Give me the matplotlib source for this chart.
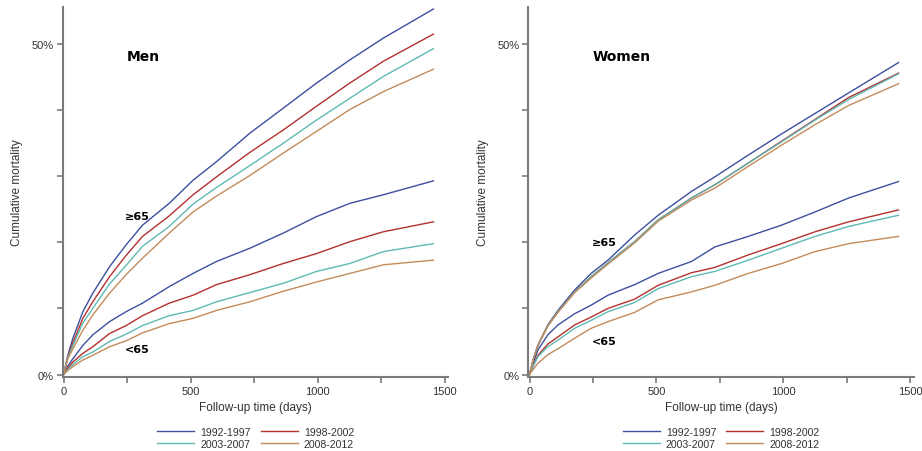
import matplotlib
matplotlib.use("Agg")
import matplotlib.pyplot as plt

periods = ["1992-1997", "1998-2002", "2003-2007", "2008-2012"]
colors = ["#3d4f9e", "#b3302e", "#5fb9b3", "#c28b5c"]

# Men (days, cumulative mortality %)
men_days = [0, 17, 37, 76, 115, 181, 246, 311, 416, 510, 602, 733, 865, 996, 1127, 1259, 1456]
men_old = {
    "1992-1997": [0, 2.9, 5.5, 9.5, 12.3, 16.3, 19.6, 22.6, 25.9, 29.4, 32.2, 36.5, 40.3, 44.1, 47.6, 50.9, 55.3],
    "1998-2002": [0, 2.7, 4.8, 8.5, 11.0, 14.8, 18.0, 20.9, 24.0, 27.2, 29.9, 33.6, 37.0, 40.6, 44.1, 47.4, 51.5],
    "2003-2007": [0, 2.6, 4.4, 7.8, 10.0, 13.7, 16.5, 19.4, 22.4, 25.8, 28.3, 31.6, 35.0, 38.5, 41.8, 45.1, 49.3],
    "2008-2012": [0, 2.4, 3.9, 6.7, 9.0, 12.3, 15.1, 17.6, 21.4, 24.6, 27.0, 30.1, 33.5, 36.8, 40.1, 42.8, 46.2],
}
men_young = {
    "1992-1997": [0, 1.3, 2.4, 4.4, 6.0, 8.0, 9.5, 10.8, 13.3, 15.3, 17.1, 19.1, 21.4, 23.9, 25.9, 27.2, 29.3],
    "1998-2002": [0, 1.0, 1.9, 3.2, 4.2, 6.2, 7.4, 8.9, 10.8, 12.0, 13.6, 15.1, 16.8, 18.3, 20.1, 21.6, 23.1],
    "2003-2007": [0, 0.8, 1.5, 2.7, 3.4, 5.0, 6.1, 7.4, 8.9, 9.7, 11.0, 12.4, 13.8, 15.6, 16.8, 18.6, 19.8],
    "2008-2012": [0, 0.6, 1.2, 2.2, 2.9, 4.2, 5.1, 6.3, 7.7, 8.5, 9.7, 11.0, 12.6, 14.0, 15.3, 16.6, 17.3],
}
# Women
women_days = [0, 15, 33, 72, 112, 178, 243, 309, 414, 507, 638, 730, 862, 993, 1125, 1257, 1454]
women_old = {
    "1992-1997": [0, 2.3, 4.4, 7.5, 9.7, 12.8, 15.3, 17.3, 21.1, 24.1, 27.7, 29.9, 33.2, 36.4, 39.5, 42.6, 47.2],
    "1998-2002": [0, 2.3, 4.4, 7.4, 9.5, 12.5, 14.8, 16.9, 20.1, 23.4, 26.7, 28.7, 32.0, 35.3, 38.6, 41.9, 45.6],
    "2003-2007": [0, 2.3, 4.4, 7.4, 9.5, 12.5, 14.8, 16.9, 20.1, 23.4, 26.7, 28.7, 32.0, 35.2, 38.5, 41.6, 45.5],
    "2008-2012": [0, 2.3, 4.4, 7.3, 9.4, 12.4, 14.6, 16.7, 19.9, 23.2, 26.4, 28.2, 31.5, 34.7, 37.8, 40.7, 44.0],
}
women_young = {
    "1992-1997": [0, 1.8, 3.7, 6.0, 7.5, 9.2, 10.5, 12.0, 13.6, 15.3, 17.1, 19.3, 20.9, 22.6, 24.6, 26.7, 29.2],
    "1998-2002": [0, 1.4, 2.9, 4.6, 5.7, 7.5, 8.7, 10.0, 11.4, 13.5, 15.4, 16.2, 18.1, 19.8, 21.6, 23.1, 24.9],
    "2003-2007": [0, 1.3, 2.7, 4.2, 5.2, 7.0, 8.2, 9.5, 10.9, 13.0, 14.8, 15.6, 17.3, 19.1, 20.9, 22.4, 24.1],
    "2008-2012": [0, 0.8, 1.7, 3.0, 3.9, 5.5, 7.0, 8.0, 9.4, 11.3, 12.5, 13.5, 15.3, 16.8, 18.6, 19.8, 20.9],
}

x_major = [0, 500, 1000, 1500]
x_minor = [250, 750, 1250]
y_ticks = [0, 10, 20, 30, 40, 50]
y_labels = ["0%", "", "", "", "", "50%"]

plt.rcParams['font.family'] = ['Liberation Sans', 'DejaVu Sans']

fig = plt.figure(figsize=(9.22, 4.52), dpi=100)
ax1 = fig.add_axes([0.0678, 0.1648, 0.4186, 0.8175])
ax2 = fig.add_axes([0.5732, 0.1648, 0.4182, 0.8175])

spine_c = "#7a7a7a"
txt_c = "#333333"

def draw(ax, days, old, young, title, old_pos, young_pos):
    handles = []
    for p, c in zip(periods, colors):
        h, = ax.plot(days, old[p], color=c, lw=1.0, label=p)
        ax.plot(days, young[p], color=c, lw=1.0)
        handles.append(h)
    ax.set_xlim(-4, 1515)
    ax.set_ylim(-0.3, 55.6)
    for s in ["top", "right"]:
        ax.spines[s].set_visible(False)
    for s in ["left", "bottom"]:
        ax.spines[s].set_color(spine_c)
        ax.spines[s].set_linewidth(1.5)
    ax.set_xticks(x_major)
    ax.set_xticks(x_minor, minor=True)
    ax.set_yticks(y_ticks)
    ax.set_yticklabels(y_labels)
    ax.tick_params(axis="both", which="both", colors=spine_c, labelcolor=txt_c,
                   labelsize=8, length=4, width=1.2, pad=2.5)
    ax.set_xlabel("Follow-up time (days)", fontsize=8.5, color=txt_c, labelpad=4)
    ax.set_ylabel("Cumulative mortality", fontsize=8.5, color=txt_c, labelpad=6)
    ax.text(250, 48.2, title, fontsize=10, fontweight="bold", family="DejaVu Sans",
            ha="left", va="center", color="black")
    ax.text(old_pos[0], old_pos[1], "≥65", fontsize=8, fontweight="bold",
            family="DejaVu Sans", ha="left", va="center")
    ax.text(young_pos[0], young_pos[1], "<65", fontsize=8, fontweight="bold",
            family="DejaVu Sans", ha="left", va="center")
    order = [0, 2, 1, 3]
    leg = ax.legend([handles[i] for i in order], [periods[i] for i in order],
                    loc="center", bbox_to_anchor=(0.5, -0.166), ncol=2,
                    frameon=False, fontsize=7.6, handlelength=3.5, columnspacing=0.95,
                    handletextpad=0.6, labelspacing=0.2, borderpad=0)
    for t in leg.get_texts():
        t.set_color(txt_c)

draw(ax1, men_days, men_old, men_young, "Men", (242, 24.0), (242, 3.9))
draw(ax2, women_days, women_old, women_young, "Women", (245, 20.0), (245, 5.0))

fig.savefig("out.png", dpi=100)
